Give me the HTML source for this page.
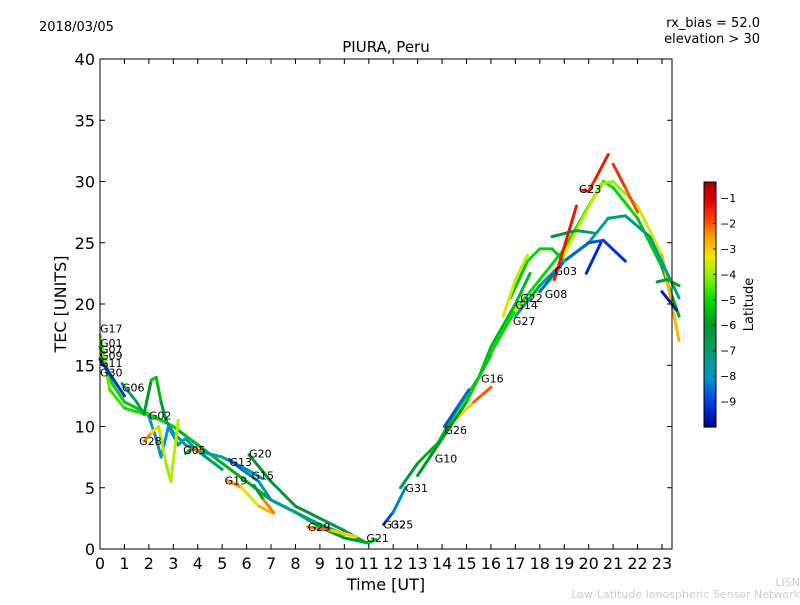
<!DOCTYPE html>
<html><head><meta charset="utf-8"><style>
body{margin:0;background:#fff}
svg{font-family:"DejaVu Sans","Liberation Sans",sans-serif}
</style></head><body>
<svg id="chart" width="800" height="600" viewBox="0 0 800 600">
<rect width="800" height="600" fill="#fff"/>
<text x="39" y="31" font-size="13">2018/03/05</text>
<text x="760" y="27" font-size="13" text-anchor="end">rx_bias = 52.0</text>
<text x="760" y="43" font-size="13" text-anchor="end">elevation &gt; 30</text>
<text x="386" y="52" font-size="15" text-anchor="middle">PIURA, Peru</text>
<text x="386" y="590" font-size="16" text-anchor="middle">Time [UT]</text>
<text transform="translate(66,304) rotate(-90)" font-size="16" text-anchor="middle">TEC [UNITS]</text>
<text x="800" y="586" font-size="11" fill="#ccc" text-anchor="end">LISN</text>
<text x="800" y="598" font-size="11" fill="#ccc" text-anchor="end">Low-Latitude Ionospheric Sensor Network</text>
<g id="plot"></g>
<g id="axes"></g>
<g id="cbar"></g>
</svg>
<script>
const xTicks=[0,1,2,3,4,5,6,7,8,9,10,11,12,13,14,15,16,17,18,19,20,21,22,23];
const yTicks=[0,5,10,15,20,25,30,35,40];
const cbTicks=[-1,-2,-3,-4,-5,-6,-7,-8,-9];
const trackTimes=[
[0,0.5,1,2,3,4,5,6,7,8,9,10,11],
[0,0.4,1,2.2,3],
[0,0.5,1],
[0.9,1.5,1.8,2.1,2.3,2.5,2.7,3,3.5,4,5],
[2,2.3,2.5,2.8,3.2,3.5,4,5,6,6.6],
[1.8,2.1,2.4,2.7,2.9,3.2],
[3.5,3.8,4.1],
[5.3,5.8,6.5,7,8,9,10],
[6.1,7,8,9,10,10.9],
[5.2,5.8,6.5,7.1],
[6.3,6.7,7.1],
[8.5,9.5,10.5],
[10.7,11,11.3],
[11.6,12,12.5],
[12.3,13,14],
[13.5,14.5,15.5,16],
[14.1,14.6,15.1],
[14.5,15.3,16],
[15.5,16,17,17.6],
[13,15,16,17,18,19,20,20.6,21,22,23,23.7],
[17,18.5,19.5,20.5,21,22,23,23.7],
[19.7,20,20.3,20.8],
[21,21.5,22],
[17,18,19,20,20.8,21.5,22.5,23.7],
[18,19,20,20.6,21.5],
[19.9,20.5],
[16.8,17.5,18,18.5,19],
[16.5,17,17.5],
[18.5,19.5,20.2],
[18.6,19.5],
[22.8,23.2,23.7],
[23,23.6]
];
const trackTec=[
[16.5,13.5,12,11,10,8.5,7,5.5,4,3,1.8,0.9,0.5],
[17.5,13,11.5,10.8,10],
[15.5,14,12.5],
[13.5,12,11,13.8,14,12,10.5,9.5,8.5,8,6.5],
[10.8,9,7.5,10,8.5,9,8,7.5,6.5,5.8],
[8.8,9.5,10,7,5.5,10.5],
[7.8,8.2,8],
[7.3,6.5,5.5,4,3,2,1.2],
[7.7,5.5,3.5,2.5,1.5,0.5],
[5.6,5,3.5,2.9],
[5.2,4,3],
[1.8,1.5,1],
[0.6,0.5,0.8],
[2,3,5],
[5,7,9],
[7.5,11,14,15.8],
[10,11.5,13],
[10.5,12,13.2],
[14,16.5,20,22.5],
[6,12,16,19.5,22,24.5,28,30,29.5,27,23,19],
[19.5,22,26,29.8,30,28,24,17],
[29.3,29.2,30.3,32.2],
[31.4,29.5,27.5],
[19,21.5,23.5,25,27,27.2,25.5,20.5],
[21,23.5,25,25.2,23.5],
[22.5,25],
[20.5,23.5,24.5,24.5,23.5],
[19,22,24],
[25.5,26,25.8],
[22,28],
[21.8,22,21.5],
[21,19.5]
];
const trackLat=[
[-5,-5,-5.2,-5.3,-5.5,-5.5,-5.6,-5.6,-5.7,-5.8,-5.9,-6,-6],
[-4.2,-4.5,-4.8,-5,-5],
[-9.2,-9.2,-9.2],
[-7,-7,-6.5,-5.5,-5,-6,-6.5,-6.8,-7,-7,-7],
[-8,-8,-8,-8,-8,-8,-8,-7.5,-7.5,-7.5],
[-1.8,-3,-3.5,-4,-4,-3.5],
[-9,-2,-2],
[-9,-8.5,-8,-7.5,-7.5,-7,-7],
[-6,-6,-6.2,-6.2,-6.5,-6.5],
[-1.8,-3,-4,-1.5],
[-9,-3,-1.5],
[-1.8,-2.5,-3.5],
[-6,-5.5,-5],
[-9.2,-8.5,-8],
[-6.5,-6,-5.5],
[-5.5,-5.2,-5,-5],
[-9,-8.5,-8.5],
[-3.5,-2.5,-1.5],
[-5.5,-5.5,-5.5,-5.5],
[-6.5,-5.5,-5,-5,-5,-5,-5,-4.8,-5,-5,-5.5,-6],
[-3.5,-3.5,-3.5,-4,-4,-4,-3,-2.5],
[-1.5,-1.5,-1.5,-1.2],
[-1.5,-1.8,-2],
[-7,-7.2,-7.5,-7.5,-7,-7,-7.5,-7.5],
[-8.5,-8.5,-8.5,-9,-9.3],
[-9.3,-9.2],
[-5.5,-5,-5,-5.2,-5.3],
[-3.5,-3.5,-3.8],
[-6,-6.5,-7.5],
[-1.3,-1.3],
[-6.5,-6,-5.5],
[-9.5,-9.5]
];
const prnNames=["G17","G01","G07","G09","G11","G30","G06","G02","G28","G05","G13","G20","G19","G15","G29","G21","G32","G25","G31","G10","G26","G16","G27","G14","G22","G08","G03","G23"];
const prnTimes=[0,0,0,0,0,0,0.9,2,1.6,3.4,5.3,6.1,5.1,6.2,8.5,10.9,11.6,11.9,12.5,13.7,14.1,15.6,16.9,17,17.2,18.2,18.6,19.6];
const prnTec=[18,16.8,16.3,15.8,15.2,14.4,13.2,10.9,8.8,8.1,7.1,7.8,5.6,6,1.8,0.9,2,2,5,7.4,9.7,13.9,18.6,19.9,20.5,20.8,22.7,29.4];

const X0=100,X1=672,Y0=549,Y1=59;
const xs=t=>X0+t*(X1-X0)/23.41;
const ys=v=>Y0-v*(Y0-Y1)/40;
const NS="http://www.w3.org/2000/svg";
const cmapStops=[[-10,0,0,140],[-9,0,60,230],[-8,0,150,200],[-7,0,160,110],[-6,0,150,40],[-5,0,220,0],[-4,150,240,0],[-3.3,240,230,0],[-2.5,255,160,0],[-1.8,255,60,0],[-1,220,0,0],[-0.37,170,0,0]];
function latColor(l){
  if(l<=cmapStops[0][0]) l=cmapStops[0][0];
  for(let i=0;i<cmapStops.length-1;i++){
    const a=cmapStops[i],b=cmapStops[i+1];
    if(l<=b[0]||i==cmapStops.length-2){
      const f=Math.min(1,Math.max(0,(l-a[0])/(b[0]-a[0])));
      return `rgb(${Math.round(a[1]+f*(b[1]-a[1]))},${Math.round(a[2]+f*(b[2]-a[2]))},${Math.round(a[3]+f*(b[3]-a[3]))})`;
    }
  }
}
const LMIN=-10,LMAX=-0.37;
const plot=document.getElementById('plot');
trackTimes.forEach((tt,i)=>{
  const g=document.createElementNS(NS,'g');
  
  
  for(let k=0;k<tt.length-1;k++){
    const ln=document.createElementNS(NS,'line');
    ln.setAttribute('x1',xs(tt[k]));ln.setAttribute('y1',ys(trackTec[i][k]));
    ln.setAttribute('x2',xs(tt[k+1]));ln.setAttribute('y2',ys(trackTec[i][k+1]));
    ln.setAttribute('stroke',latColor((trackLat[i][k]+trackLat[i][k+1])/2));
    ln.setAttribute('stroke-width','3');ln.setAttribute('stroke-linecap','round');
    
    
    g.appendChild(ln);
  }
  plot.appendChild(g);
});
prnNames.forEach((n,i)=>{
  const t=document.createElementNS(NS,'text');
  t.setAttribute('x',xs(prnTimes[i]));t.setAttribute('y',ys(prnTec[i])+4);
  t.setAttribute('font-size','11');t.textContent=n;
  
  
  plot.appendChild(t);
});
const ax=document.getElementById('axes');
const fr=document.createElementNS(NS,'rect');
fr.setAttribute('x',X0);fr.setAttribute('y',Y1);fr.setAttribute('width',X1-X0);fr.setAttribute('height',Y0-Y1);
fr.setAttribute('fill','none');fr.setAttribute('stroke','#000');


ax.appendChild(fr);
function tick(x1,y1,x2,y2){const l=document.createElementNS(NS,'line');l.setAttribute('x1',x1);l.setAttribute('y1',y1);l.setAttribute('x2',x2);l.setAttribute('y2',y2);l.setAttribute('stroke','#000');


ax.appendChild(l);}
xTicks.forEach(v=>{const x=xs(v);tick(x,Y0,x,Y0-5);tick(x,Y1,x,Y1+5);
 const t=document.createElementNS(NS,'text');t.setAttribute('x',x);t.setAttribute('y',Y0+20);t.setAttribute('font-size','16');t.setAttribute('text-anchor','middle');t.textContent=v;
 
 
 ax.appendChild(t);});
yTicks.forEach(v=>{const y=ys(v);tick(X0,y,X0+5,y);tick(X1,y,X1-5,y);
 const t=document.createElementNS(NS,'text');t.setAttribute('x',X0-5);t.setAttribute('y',y+6);t.setAttribute('font-size','16');t.setAttribute('text-anchor','end');t.textContent=v;
 
 
 ax.appendChild(t);});
const cb=document.getElementById('cbar');
const CX=704,CW=12,CT=182,CB=427;
const cy=l=>CB-(l-LMIN)*(CB-CT)/(LMAX-LMIN);
for(let i=0;i<100;i++){const r=document.createElementNS(NS,'rect');
 const l0=LMIN+(LMAX-LMIN)*i/100;
 r.setAttribute('x',CX);r.setAttribute('y',cy(LMIN+(LMAX-LMIN)*(i+1)/100));r.setAttribute('width',CW);r.setAttribute('height',(CB-CT)/100+0.6);r.setAttribute('fill',latColor(l0+(LMAX-LMIN)/200));
 
 
 cb.appendChild(r);}
const cf=document.createElementNS(NS,'rect');cf.setAttribute('x',CX);cf.setAttribute('y',CT);cf.setAttribute('width',CW);cf.setAttribute('height',CB-CT);cf.setAttribute('fill','none');cf.setAttribute('stroke','#000');


cb.appendChild(cf);
cbTicks.forEach(v=>{const y=cy(v);
 const l=document.createElementNS(NS,'line');l.setAttribute('x1',CX+CW-3);l.setAttribute('x2',CX+CW);l.setAttribute('y1',y);l.setAttribute('y2',y);l.setAttribute('stroke','#000');
 
 
 cb.appendChild(l);
 const t=document.createElementNS(NS,'text');t.setAttribute('x',CX+CW+4);t.setAttribute('y',y+4);t.setAttribute('font-size','11');t.textContent='\u2212'+Math.abs(v);
 
 
 cb.appendChild(t);});
const ct=document.createElementNS(NS,'text');ct.setAttribute('transform',`translate(753,${(CT+CB)/2}) rotate(-90)`);ct.setAttribute('font-size','13');ct.setAttribute('text-anchor','middle');ct.textContent='Latitude';


cb.appendChild(ct);
</script>
</body></html>
